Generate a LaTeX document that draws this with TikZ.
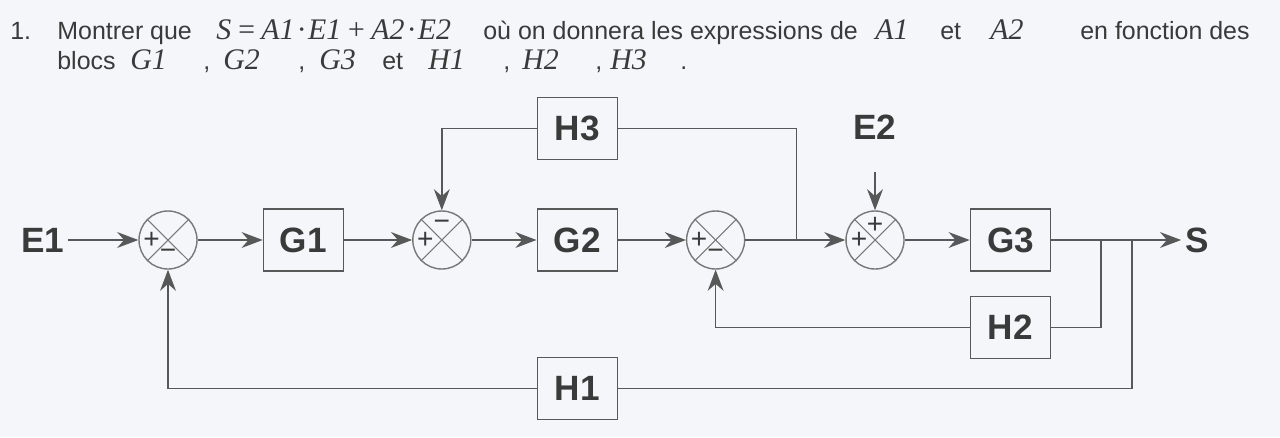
\documentclass[tikz,border=0pt]{standalone}
\usepackage{fontspec}
\setmainfont{Liberation Sans}
\newfontfamily\timesfont{Liberation Serif}
\usepackage{tikz}
\usetikzlibrary{positioning,arrows.meta}

\definecolor{paper}{RGB}{244,246,249}
\definecolor{inkgray}{RGB}{58,58,58}
\definecolor{linegray}{RGB}{88,88,88}
\definecolor{ringgray}{RGB}{120,120,120}

\begin{document}
\begin{tikzpicture}[
    node distance=1.3cm,
    block/.style={rectangle, draw=linegray, line width=0.8pt, minimum width=1.6cm, minimum height=1.24cm, font=\fontsize{20}{24}\selectfont\bfseries, text=inkgray},
    sum/.style={circle, draw=ringgray, line width=0.8pt, minimum size=1.16cm, inner sep=0pt},
    sig/.style={font=\fontsize{16}{16}\selectfont, text=inkgray, inner sep=0pt},
    lbl/.style={font=\fontsize{20}{24}\selectfont\bfseries, text=inkgray, inner sep=2pt},
    txt/.style={anchor=base west, font=\fontsize{14.2}{16}\selectfont, text=inkgray, inner sep=0pt},
    mth/.style={anchor=base west, font=\fontsize{17}{19}\selectfont\timesfont\itshape, text=inkgray, inner sep=0pt},
    link/.style={line width=0.9pt, draw=linegray},
    arrow/.style={link, -{Stealth[length=12pt,width=9pt]}}
]
\fill[paper] (0,0) rectangle (25.6,-8.74);
\useasboundingbox (0,0) rectangle (25.6,-8.74);

% question text
\node[txt] (num) at (0.2,-0.78) {1.};
\node[txt] (q1) at (1.14,-0.78) {Montrer que};
\node[mth] (eq) at (4.32,-0.78) {S\,=\,A1\kern0.1em·\kern0.1em E1\,+\,A2\kern0.1em·\kern0.1em E2};
\node[txt] (q2) at (9.66,-0.78) {où on donnera les expressions de};
\node[mth] (a1) at (17.5,-0.78) {A1};
\node[txt] (q3) at (18.8,-0.78) {et};
\node[mth] (a2) at (19.8,-0.78) {A2};
\node[txt] (q4) at (21.6,-0.78) {en fonction des};
\node[txt] (q5) at (1.14,-1.38) {blocs};
\node[mth] (g1) at (2.6,-1.38) {G1};
\node[txt] (c1) at (4.06,-1.38) {,};
\node[mth] (g2) at (4.46,-1.38) {G2};
\node[txt] (c2) at (5.96,-1.38) {,};
\node[mth] (g3) at (6.38,-1.38) {G3};
\node[txt] (q6) at (7.64,-1.38) {et};
\node[mth] (h1) at (8.56,-1.38) {H1};
\node[txt] (c3) at (10.06,-1.38) {,};
\node[mth] (h2) at (10.44,-1.38) {H2};
\node[txt] (c4) at (11.9,-1.38) {,};
\node[mth] (h3) at (12.2,-1.38) {H3};
\node[txt] (pt) at (13.6,-1.38) {.};

% forward path
\node[sum] (sum1) at (3.36,-4.8) {};
\node[lbl, left=1.4cm of sum1] (E1) {E1};
\node[block, right=1.3cm of sum1] (G1) {G1};
\node[sum, right=1.36cm of G1] (sum2) {};
\node[block, right=1.3cm of sum2] (G2) {G2};
\node[sum, right=1.36cm of G2] (sum3) {};
\node[sum, right=2cm of sum3] (sum4) {};
\node[block, right=1.3cm of sum4] (G3) {G3};
\node[lbl, right=2.6cm of G3] (S) {S};

% feedback blocks
\node[block, above=0.96cm of G2] (H3) {H3};
\node[block, below=0.48cm of G3] (H2) {H2};
\node[block, below=1.7cm of G2] (H1) {H1};

% branch points
\coordinate[right=1.02cm of sum3] (b3);
\coordinate[right=1cm of G3] (b2);
\coordinate[right=1.62cm of G3] (b1);
\coordinate[above=0.76cm of sum4] (e2in);
\node[lbl, above=0.57cm of e2in] (E2) {E2};

% crosses and signs
\foreach \s in {sum1,sum2,sum3,sum4}
    \draw[ringgray, line width=0.6pt] (\s.north west) -- (\s.south east) (\s.north east) -- (\s.south west);
\node[sig] at ([xshift=-0.33cm]sum1.center) {+};
\node[sig] at ([yshift=-0.28cm]sum1.center) {−};
\node[sig] at ([xshift=-0.33cm]sum2.center) {+};
\node[sig] at ([yshift=0.3cm]sum2.center) {−};
\node[sig] at ([xshift=-0.33cm]sum3.center) {+};
\node[sig] at ([yshift=-0.28cm]sum3.center) {−};
\node[sig] at ([xshift=-0.32cm]sum4.center) {+};
\node[sig] at ([yshift=0.3cm]sum4.center) {+};

\draw[arrow] (E1) -- (sum1);
\draw[arrow] (sum1) -- (G1);
\draw[arrow] (G1) -- (sum2);
\draw[arrow] (sum2) -- (G2);
\draw[arrow] (G2) -- (sum3);
\draw[arrow] (sum3) -- (sum4);
\draw[arrow] (sum4) -- (G3);
\draw[arrow] (G3) -- (S);
\draw[arrow] (e2in) -- (sum4);

\draw[link] (b3) |- (H3);
\draw[arrow] (H3) -| (sum2);
\draw[link] (b2) |- (H2);
\draw[arrow] (H2) -| (sum3);
\draw[link] (b1) |- (H1);
\draw[arrow] (H1) -| (sum1);
\end{tikzpicture}
\end{document}
